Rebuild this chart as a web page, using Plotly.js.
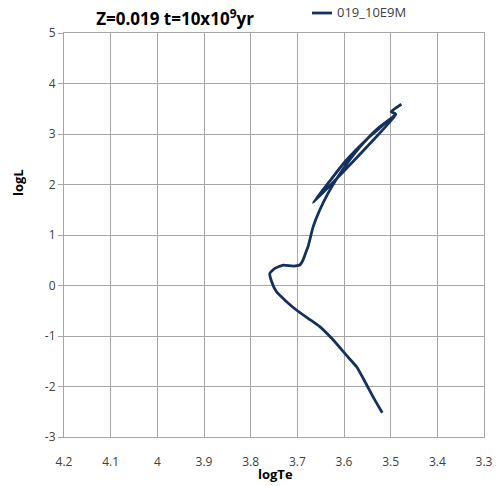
<!DOCTYPE html>
<html>
<head>
<meta charset="utf-8">
<script src="https://cdn.plot.ly/plotly-3.0.1.min.js"></script>
<style>
html,body{margin:0;padding:0;background:#fff;}
#chart{width:500px;height:486px;}
</style>
</head>
<body>
<div id="chart"></div>
<script>
var seriesName = "019_10E9M";
var logTe = [3.518, 3.538, 3.555, 3.573, 3.595, 3.623, 3.652, 3.677, 3.702, 3.723, 3.745, 3.755, 3.759, 3.748, 3.730, 3.709, 3.695, 3.688, 3.680, 3.677, 3.666, 3.652, 3.634, 3.613, 3.588, 3.559, 3.523, 3.488,
             3.666, 3.632, 3.598, 3.545, 3.490, 3.499, 3.477];
var logL = [-2.52, -2.20, -1.905, -1.61, -1.38, -1.08, -0.815, -0.65, -0.485, -0.32, -0.12, 0.075, 0.24, 0.34, 0.405, 0.385, 0.405, 0.50, 0.70, 0.77, 1.165, 1.495, 1.83, 2.155, 2.485, 2.815, 3.145, 3.38,
            1.64, 2.05, 2.45, 2.95, 3.40, 3.44, 3.59];
var xTicks = [4.2, 4.1, 4, 3.9, 3.8, 3.7, 3.6, 3.5, 3.4, 3.3];
var yTicks = [-3, -2, -1, 0, 1, 2, 3, 4, 5];

var font = "Open Sans, Liberation Sans, sans-serif";
var lineColor = "#14305e";
var trace = {
  x: logTe, y: logL, type: "scatter", mode: "lines", name: seriesName, showlegend: false,
  line: {color: lineColor, width: 2.8, shape: "spline", smoothing: 0.5}
};
var L = 64, R = 16, T = 33, B = 49, W = 500, H = 486;
var pw = W - L - R, ph = H - T - B;
function px(x) { return (x - L) / pw; }
function py(y) { return (H - B - y) / ph; }
var layout = {
  width: W, height: H,
  margin: {l: L, r: R, t: T, b: B, autoexpand: false},
  paper_bgcolor: "#fff", plot_bgcolor: "#fff",
  showlegend: false,
  title: {text: "<b>Z=0.019 t=10x10<sup>9</sup>yr</b>", x: 175 / W, xanchor: "center", y: 1 - 19 / H, yanchor: "middle", font: {family: font, size: 17, color: "#000"}},
  xaxis: {
    range: [4.2, 3.3], tickvals: xTicks, ticktext: xTicks.map(String),
    showgrid: true, gridcolor: "#a6a6a6", gridwidth: 1, zeroline: false,
    showline: true, linecolor: "#a6a6a6", mirror: true,
    ticks: "outside", ticklen: 14, tickcolor: "rgba(0,0,0,0)",
    tickfont: {family: font, size: 12, color: "#404040"}
  },
  yaxis: {
    range: [-3, 5], tickvals: yTicks, ticktext: yTicks.map(String),
    showgrid: true, gridcolor: "#a6a6a6", gridwidth: 1, zeroline: false,
    showline: true, linecolor: "#a6a6a6", mirror: true,
    ticks: "outside", ticklen: 5, tickcolor: "#a6a6a6",
    tickfont: {family: font, size: 12, color: "#404040"}
  },
  shapes: [
    {type: "line", xref: "paper", yref: "paper", x0: px(312), x1: px(332), y0: py(13), y1: py(13), line: {color: lineColor, width: 2.8}}
  ],
  annotations: [
    {text: seriesName, x: px(335), y: py(12), xref: "paper", yref: "paper", xanchor: "left", yanchor: "middle", showarrow: false, font: {family: font, size: 13, color: "#404040"}},
    {text: "<b>logL</b>", x: px(18), y: py(183), xref: "paper", yref: "paper", xanchor: "center", yanchor: "middle", showarrow: false, textangle: -90, font: {family: font, size: 13, color: "#000"}},
    {text: "<b>logTe</b>", x: px(275), y: py(474), xref: "paper", yref: "paper", xanchor: "center", yanchor: "middle", showarrow: false, font: {family: font, size: 13, color: "#000"}}
  ]
};
Plotly.newPlot("chart", [trace], layout, {displayModeBar: false, staticPlot: true});
</script>
</body>
</html>
